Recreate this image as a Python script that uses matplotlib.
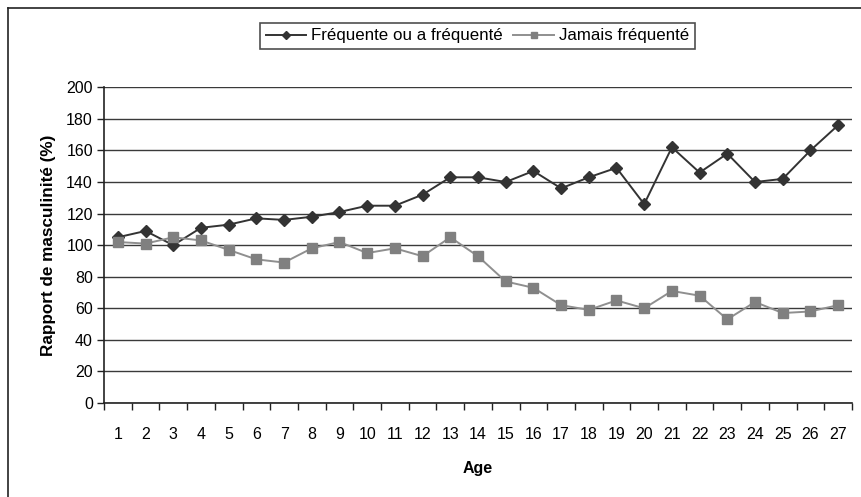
import matplotlib.pyplot as plt
from matplotlib.lines import Line2D

plt.rcParams['font.family'] = ['Liberation Sans', 'DejaVu Sans']

ages = list(range(1, 28))
frequente = [105, 109, 100, 111, 113, 117, 116, 118, 121, 125, 125, 132, 143, 143, 140, 147,
             136, 143, 149, 126, 162, 146, 158, 140, 142, 160, 176]
jamais = [102, 101, 105, 103, 97, 91, 89, 98, 102, 95, 98, 93, 105, 93, 77, 73,
          62, 59, 65, 60, 71, 68, 53, 64, 57, 58, 62]
y_ticks = list(range(0, 201, 20))

fig = plt.figure(figsize=(8.61, 4.97), dpi=100)
ax = fig.add_axes([0.1208, 0.1891, 0.8687, 0.6352])

# grid lines like the spreadsheet chart
for v in y_ticks:
    ax.axhline(v, color='#3a3a3a', linewidth=1.0, zorder=1)

ax.plot(ages, frequente, color='#333333', linewidth=1.4, marker='D', markersize=6,
        markerfacecolor='#333333', markeredgecolor='#333333', zorder=3,
        label='Fréquente ou a fréquenté')
ax.plot(ages, jamais, color='#8f8f8f', linewidth=1.4, marker='s', markersize=6.5,
        markerfacecolor='#808080', markeredgecolor='#808080', zorder=3,
        label='Jamais fréquenté')

ax.set_xlim(0.5, 27.5)
ax.set_ylim(0, 200)
ax.set_yticks(y_ticks)
ax.set_xticks(ages)
ax.set_xticks([a + 0.5 for a in range(0, 28)], minor=True)
ax.tick_params(axis='x', which='major', length=0, pad=17, labelsize=11.5)
ax.tick_params(axis='x', which='minor', length=5, width=1, direction='out', color='#222222')
ax.tick_params(axis='y', length=5, width=1, direction='out', labelsize=11.5, pad=3, color='#222222')

for s in ['top', 'right']:
    ax.spines[s].set_visible(False)
ax.spines['left'].set_linewidth(1.2)
ax.spines['bottom'].set_linewidth(1.2)
ax.spines['left'].set_color('#222222')
ax.spines['bottom'].set_color('#222222')

ax.set_ylabel('Rapport de masculinité (%)', fontsize=12.3, fontweight='bold', labelpad=7)
ax.set_xlabel('Age', fontsize=11.5, fontweight='bold', labelpad=14)

leg = fig.legend(loc='center', bbox_to_anchor=(0.5546, 0.9276), ncol=2, fontsize=12.2,
                 frameon=True, fancybox=False, edgecolor='#222222', borderpad=0.35,
                 handlelength=2.4, columnspacing=0.6, handletextpad=0.3)
leg.get_frame().set_linewidth(1.2)
for h in leg.legend_handles:
    h.set_markersize(4.5)

# outer frame (clipped at right and bottom in the reference)
fig.add_artist(Line2D([8 / 861, 1], [1 - 8 / 497, 1 - 8 / 497], color='#222222', linewidth=1.2))
fig.add_artist(Line2D([8 / 861, 8 / 861], [0, 1 - 8 / 497], color='#222222', linewidth=1.2))

fig.savefig('out.png', dpi=100)
